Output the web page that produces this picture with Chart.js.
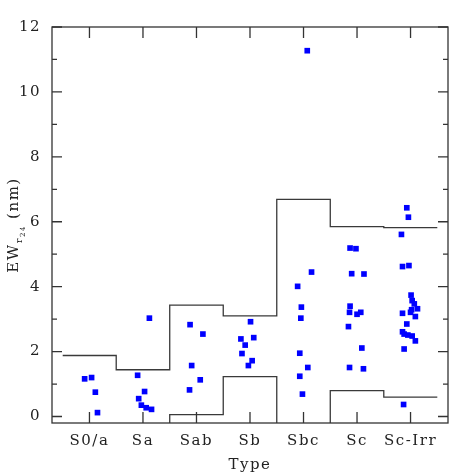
<!DOCTYPE html>
<html>
<head>
<meta charset="utf-8">
<script src="https://cdn.jsdelivr.net/npm/chart.js@4.4.1/dist/chart.umd.min.js"></script>
<style>
  html, body { margin: 0; padding: 0; background: #fff; }
</style>
</head>
<body>
<canvas id="grafikEW" width="474" height="474"></canvas>
<script>
const tipe = ['S0/a', 'Sa', 'Sab', 'Sb', 'Sbc', 'Sc', 'Sc-Irr'];
const tickY = [0, 2, 4, 6, 8, 10, 12];

// EW per galaxy, grouped by type
const nilaiEW = [
    [1.16, 1.20, 0.75, 0.12],
    [1.27, 0.77, 0.55, 0.35, 0.27, 0.22, 3.03],
    [2.83, 2.54, 1.57, 1.13, 0.82],
    [2.92, 2.39, 2.43, 2.20, 1.94, 1.72, 1.57],
    [4.45, 4.01, 3.37, 3.03, 1.95, 1.51, 1.24, 0.69, 11.27],
    [5.19, 5.17, 4.40, 4.39, 3.40, 3.21, 3.15, 3.21, 2.77, 2.11, 1.51, 1.47],
    [6.43, 6.14, 5.61, 4.62, 4.65, 3.74, 3.57, 3.47, 3.32, 3.29, 3.21, 3.18, 3.08, 2.85, 2.61, 2.54, 2.51, 2.48, 2.33, 2.08, 0.37]
];
// horizontal jitter of each point (in type units)
const geserX = [
    [-0.09, 0.04, 0.11, 0.15],
    [-0.10, 0.03, -0.08, -0.03, 0.06, 0.16, 0.12],
    [-0.12, 0.12, -0.09, 0.07, -0.13],
    [0.01, -0.17, 0.07, -0.09, -0.15, 0.04, -0.03],
    [0.15, -0.11, -0.04, -0.05, -0.07, 0.08, -0.07, -0.02, 0.07],
    [-0.13, -0.02, -0.10, 0.13, -0.13, -0.14, 0.00, 0.07, -0.16, 0.09, -0.14, 0.12],
    [-0.07, -0.04, -0.17, -0.15, -0.03, 0.01, 0.03, 0.07, 0.13, 0.02, 0.00, -0.15, 0.09, -0.07, -0.15, -0.12, -0.05, 0.03, 0.09, -0.12, -0.13]
];
const batasAtas = [1.88, 1.44, 3.43, 3.10, 6.69, 5.85, 5.82];
const batasBawah = [-0.5, -0.5, 0.06, 1.23, -0.5, 0.80, 0.60];

const xMin = -0.7, xMax = 6.7;
const huruf = "'DejaVu Serif', serif";

const titik = [];
nilaiEW.forEach((arr, i) => arr.forEach((v, j) => titik.push({ x: i + geserX[i][j], y: v })));

function tangga(vals) {
    const pts = [];
    vals.forEach((v, i) => {
        pts.push({ x: Math.max(i - 0.5, xMin), y: v });
        pts.push({ x: Math.min(i + 0.5, xMax), y: v });
    });
    return pts;
}

const bingkai = {
    id: 'bingkai',
    beforeDraw(chart) {
        chart.ctx.letterSpacing = '1.5px';
    },
    afterDraw(chart) {
        const { ctx, chartArea: a, scales: { x, y } } = chart;
        ctx.save();
        ctx.strokeStyle = '#333';
        ctx.lineWidth = 1.3;
        ctx.strokeRect(a.left, a.top, a.right - a.left, a.bottom - a.top);
        ctx.beginPath();
        tipe.forEach((_, i) => {
            const px = x.getPixelForValue(i);
            ctx.moveTo(px, a.bottom); ctx.lineTo(px, a.bottom - 11);
            ctx.moveTo(px, a.top); ctx.lineTo(px, a.top + 11);
        });
        for (let v = 0; v <= 12; v++) {
            const py = y.getPixelForValue(v);
            const len = v % 2 ? 5 : 10;
            ctx.moveTo(a.left, py); ctx.lineTo(a.left + len, py);
            ctx.moveTo(a.right, py); ctx.lineTo(a.right - len, py);
        }
        ctx.stroke();

        // y axis title with subscripts
        const bagian = [['EW', 15, 0], ['r', 10, 4], ['24', 7, 7], [' (nm)', 15, 0]];
        ctx.letterSpacing = '1.5px';
        ctx.fillStyle = '#222';
        let total = 0;
        bagian.forEach(b => { ctx.font = b[1] + 'px ' + huruf; total += ctx.measureText(b[0]).width; });
        ctx.translate(13, (a.top + a.bottom) / 2);
        ctx.rotate(-Math.PI / 2);
        ctx.textBaseline = 'alphabetic';
        let pos = -total / 2;
        bagian.forEach(b => {
            ctx.font = b[1] + 'px ' + huruf;
            ctx.fillText(b[0], pos, 5 + b[2]);
            pos += ctx.measureText(b[0]).width;
        });
        ctx.restore();
    }
};

new Chart(document.getElementById('grafikEW'), {
    type: 'scatter',
    data: {
        datasets: [
            {
                data: titik,
                pointStyle: 'rect',
                pointRadius: 4,
                borderWidth: 0,
                backgroundColor: '#0000ff'
            },
            {
                type: 'line',
                data: tangga(batasAtas),
                borderColor: '#3a3a3a',
                borderWidth: 1.3,
                pointRadius: 0,
                fill: false
            },
            {
                type: 'line',
                data: tangga(batasBawah),
                borderColor: '#3a3a3a',
                borderWidth: 1.3,
                pointRadius: 0,
                fill: false
            }
        ]
    },
    options: {
        responsive: false,
        animation: false,
        devicePixelRatio: 1,
        layout: { padding: { top: 27, right: 26, left: 0, bottom: 0 } },
        plugins: {
            legend: { display: false },
            tooltip: { enabled: false }
        },
        scales: {
            x: {
                type: 'linear',
                min: xMin,
                max: xMax,
                afterBuildTicks: s => { s.ticks = tipe.map((_, i) => ({ value: i })); },
                afterFit: s => { s.height = 51; },
                grid: { display: false, drawTicks: false },
                border: { display: false },
                ticks: {
                    autoSkip: false,
                    maxRotation: 0,
                    padding: 9,
                    color: '#222',
                    font: { family: huruf, size: 15 },
                    callback: v => tipe[v]
                },
                title: {
                    display: true,
                    text: 'Type',
                    color: '#222',
                    font: { family: huruf, size: 15 },
                    padding: { top: 2, bottom: 0 }
                }
            },
            y: {
                min: -0.2,
                max: 12,
                afterBuildTicks: s => { s.ticks = tickY.map(v => ({ value: v })); },
                afterFit: s => { s.width = 52; },
                grid: { display: false, drawTicks: false },
                border: { display: false },
                ticks: {
                    padding: 11,
                    color: '#222',
                    font: { family: huruf, size: 15 }
                }
            }
        }
    },
    plugins: [bingkai]
});
</script>
</body>
</html>
